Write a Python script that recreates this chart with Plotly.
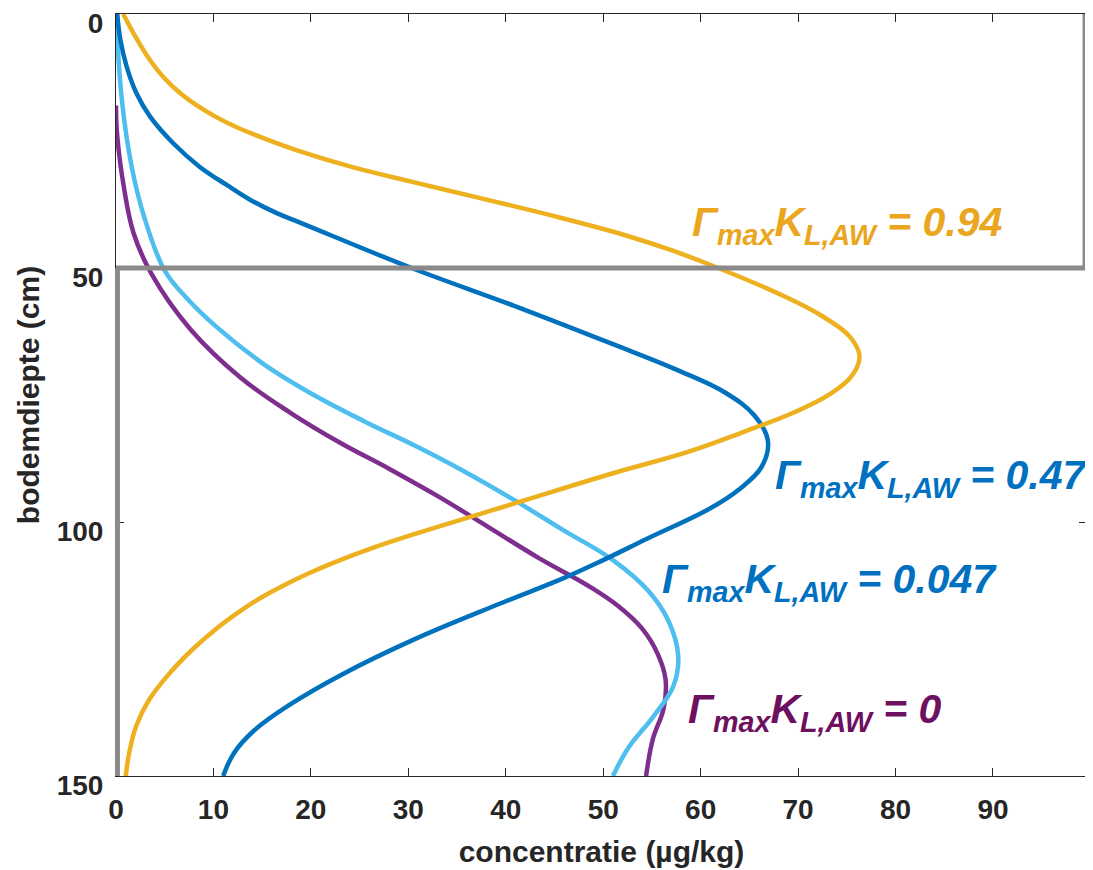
import plotly.graph_objects as go

# ---- data (concentration in µg/kg vs depth in cm) ----
x_094 = [0.75, 1.8, 3.5, 4.9, 6.6, 8.3, 10.2, 12.4, 14.8, 18.5, 24, 30.3, 37.5, 45, 52, 57, 61.8, 68.5, 72.5, 75.3, 76.3, 75.6, 73.3, 69.5, 64.5, 58.7, 51, 40.8, 30.6, 26.5, 23, 19.9, 17.2, 14.6, 12.4, 10.3, 7.9, 5.4, 3.4, 2.1, 1.4, 1.0]
y_094 = [0, 3.8, 9.1, 12.5, 15.6, 18, 20.2, 22.3, 24.2, 26.8, 30, 33, 36.3, 39.8, 43.4, 46.5, 50, 55.5, 59.5, 63.5, 67.3, 71, 74.8, 78.5, 82.2, 86.2, 90.4, 96.4, 102.4, 105, 107.5, 110, 112.5, 115.2, 118, 121, 125, 130, 135, 140, 145, 150]

x_047 = [0.13, 0.45, 1.1, 2.1, 3.5, 5.9, 8.6, 11.4, 13.8, 16.5, 19.2, 30.6, 40.8, 51, 57.5, 62.5, 65.5, 66.9, 66.3, 64, 61, 54.5, 50, 46, 39.5, 30.5, 23.2, 17.8, 14.2, 12.1, 11.0]
y_047 = [0, 5.1, 10.4, 15.6, 20.2, 25.5, 30.1, 33.7, 36.6, 39.2, 41.3, 50.2, 57.4, 65.0, 70, 74.5, 79, 84, 89, 93.5, 97.3, 103.3, 107.5, 111, 116, 123.2, 130, 136, 141, 145.5, 150]

x_0047 = [0.0, 0.6, 1.6, 2.9, 5.0, 7.3, 10.2, 15.3, 20.4, 25.5, 30.6, 35.7, 40.8, 45.9, 51, 54.6, 56.7, 57.7, 57.2, 55.1, 52.6, 51.0]
y_0047 = [0, 16.9, 30, 40, 50.5, 56, 61.4, 69.1, 75.1, 80.2, 84.9, 90.0, 95.6, 101.6, 107.5, 113.5, 119.5, 126.4, 132.3, 138.4, 144.4, 150]

x_0 = [0.0, 0.1, 0.8, 1.8, 3.6, 7.7, 12.8, 17.9, 23, 28.1, 33.2, 38.3, 43.4, 48.5, 51.5, 54, 55.6, 56.4, 56.2, 55.1, 54.4]
y_0 = [18, 23.4, 34, 43.1, 51.0, 62.2, 71.6, 78.5, 84.4, 89.6, 95.1, 101.1, 107.1, 112.6, 116.5, 121, 126, 131, 136.7, 142.7, 150]

x_ticks = [0, 10, 20, 30, 40, 50, 60, 70, 80, 90]
y_ticks = [0, 50, 100, 150]

series = [
    (x_0, y_0, "#7E2F8E", "0"),
    (x_0047, y_0047, "#4DBEEE", "0.047"),
    (x_047, y_047, "#0072BD", "0.47"),
    (x_094, y_094, "#EDB120", "0.94"),
]

FONT = "Arial, 'Liberation Sans', sans-serif"
fig = go.Figure()
for xs, ys, col, name in series:
    fig.add_trace(go.Scatter(x=xs, y=ys, mode="lines", name=name,
                             line=dict(color=col, width=4.5, shape="spline", smoothing=1.1),
                             showlegend=False, hoverinfo="skip"))

GRAY = "#8a8a8a"
# gray thick frame lines
fig.add_shape(type="line", xref="paper", yref="y", x0=0, x1=1, y0=50, y1=50,
              line=dict(color=GRAY, width=5), layer="above")
fig.add_shape(type="line", xref="paper", yref="y", x0=0.998, x1=0.998, y0=0, y1=50,
              line=dict(color=GRAY, width=5), layer="above")
fig.add_shape(type="line", xref="paper", yref="y", x0=0.0015, x1=0.0015, y0=50, y1=150,
              line=dict(color=GRAY, width=5), layer="above")

label_font = dict(family=FONT, size=41, weight="bold", style="italic")
labels = [
    ("0.94", 58.9, 41.5, "#E9A61E"),
    ("0.47", 67.4, 91.3, "#0070C0"),
    ("0.047", 55.8, 111.8, "#0070C0"),
    ("0", 58.5, 137.4, "#6E1060"),
]
for val, lx, ly, col in labels:
    fig.add_annotation(x=lx, y=ly, xref="x", yref="y", xanchor="left", yanchor="middle",
                       text=f"Γ<sub>max</sub>K<sub>L,AW</sub> = {val}", showarrow=False,
                       font=dict(color=col, **label_font))

fig.update_xaxes(range=[0, 99.65], tickvals=x_ticks, ticktext=[str(v) for v in x_ticks],
                 ticks="inside", ticklen=8, tickwidth=1, tickcolor="#262626",
                 showline=True, linecolor="#262626", linewidth=1, mirror="ticks",
                 showgrid=False, zeroline=False, ticklabeloverflow="allow",
                 tickfont=dict(family=FONT, size=28, color="#262626", weight="bold"),
                 ticklabelstandoff=8,
                 title=dict(text="concentratie (µg/kg)", standoff=17,
                            font=dict(family=FONT, size=30, color="#262626", weight="bold")))
fig.update_yaxes(range=[150, 0], tickvals=y_ticks, ticktext=[str(v) for v in y_ticks],
                 ticks="inside", ticklen=8, tickwidth=1, tickcolor="#262626",
                 showline=True, linecolor="#262626", linewidth=1, mirror="ticks",
                 showgrid=False, zeroline=False, ticklabeloverflow="allow",
                 tickfont=dict(family=FONT, size=28, color="#262626", weight="bold"),
                 ticklabelstandoff=6, ticklabelshift=-9,
                 title=dict(text="bodemdiepte (cm)", standoff=8,
                            font=dict(family=FONT, size=30, color="#262626", weight="bold")))

# page body has an 8px margin: size the figure so the plot area lands where the reference has it
fig.update_layout(width=1085, height=862, plot_bgcolor="white", paper_bgcolor="white",
                  margin=dict(l=108, r=6, t=6, b=94, autoexpand=False))
fig.write_html("out.html")
